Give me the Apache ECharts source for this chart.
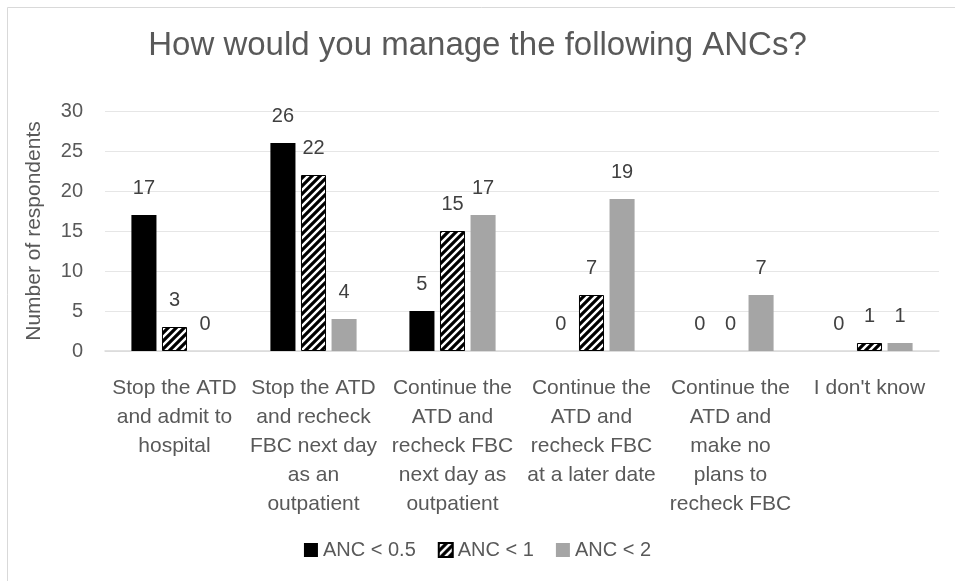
<!DOCTYPE html>
<html>
<head>
<meta charset="utf-8">
<script src="https://cdn.jsdelivr.net/npm/echarts@6/dist/echarts.min.js"></script>
<style>
  html, body { margin: 0; padding: 0; background: #fff; }
  #chart { width: 955px; height: 581px; }
</style>
</head>
<body>
<div id="chart"></div>
<script>
const categories = [
  'Stop the ATD\nand admit to\nhospital',
  'Stop the ATD\nand recheck\nFBC next day\nas an\noutpatient',
  'Continue the\nATD and\nrecheck FBC\nnext day as\noutpatient',
  'Continue the\nATD and\nrecheck FBC\nat a later date',
  'Continue the\nATD and\nmake no\nplans to\nrecheck FBC',
  "I don't know"
];
const seriesNames = ['ANC < 0.5', 'ANC < 1', 'ANC < 2'];
const anc05 = [17, 26, 5, 0, 0, 0];
const anc1 = [3, 22, 15, 7, 0, 1];
const anc2 = [0, 4, 17, 19, 7, 1];
const yTicks = [0, 5, 10, 15, 20, 25, 30];

const FONT = '"Liberation Sans", Arial, sans-serif';
const TEXT = '#595959';

// diagonal hatch for the middle series
const makeHatch = () => {
  const c = document.createElement('canvas');
  c.width = 8;
  c.height = 8;
  const ctx = c.getContext('2d');
  ctx.fillStyle = '#fff';
  ctx.fillRect(0, 0, 8, 8);
  ctx.strokeStyle = '#000';
  ctx.lineWidth = 3.2;
  ctx.beginPath();
  ctx.moveTo(-2, 10); ctx.lineTo(10, -2);
  ctx.moveTo(-2, 2); ctx.lineTo(2, -2);
  ctx.moveTo(6, 10); ctx.lineTo(10, 6);
  ctx.stroke();
  return c;
};
const hatch = { image: makeHatch(), repeat: 'repeat' };

const fills = [
  { color: '#000000' },
  { color: hatch, borderColor: '#000', borderWidth: 1 },
  { color: '#a5a5a5' }
];
const values = [anc05, anc1, anc2];

const labelStyle = {
  show: true,
  position: 'top',
  distance: 17,
  fontFamily: FONT,
  fontSize: 20,
  lineHeight: 20,
  color: '#404040'
};

const chart = echarts.init(document.getElementById('chart'));
chart.setOption({
  backgroundColor: '#fff',
  animation: false,
  graphic: [{
    type: 'rect',
    shape: { x: 7.5, y: 7.5, width: 1000, height: 1000 },
    style: { fill: 'none', stroke: '#d9d9d9', lineWidth: 1 },
    silent: true
  }],
  title: {
    text: 'How would you manage the following ANCs?',
    left: 'center',
    top: 24,
    textStyle: { fontFamily: FONT, fontSize: 33, fontWeight: 'normal', color: TEXT }
  },
  legend: {
    bottom: 16,
    left: 'center',
    icon: 'rect',
    itemWidth: 14,
    itemHeight: 14,
    itemGap: 22,
    textStyle: { fontFamily: FONT, fontSize: 20, color: TEXT },
    data: seriesNames
  },
  grid: { left: 105, right: 16, top: 111, bottom: 230 },
  xAxis: {
    type: 'category',
    data: categories,
    axisLine: { lineStyle: { color: '#d9d9d9', width: 1.5 } },
    axisTick: { show: false },
    axisLabel: {
      interval: 0,
      margin: 23,
      fontFamily: FONT,
      fontSize: 21,
      lineHeight: 29,
      color: TEXT,
      verticalAlign: 'top'
    }
  },
  yAxis: {
    type: 'value',
    min: yTicks[0],
    max: yTicks[yTicks.length - 1],
    interval: 5,
    name: 'Number of respondents',
    nameLocation: 'middle',
    nameGap: 60,
    nameTextStyle: { fontFamily: FONT, fontSize: 21, color: TEXT },
    axisLine: { show: false },
    axisTick: { show: false },
    axisLabel: { margin: 22, fontFamily: FONT, fontSize: 20, color: TEXT },
    splitLine: { lineStyle: { color: '#e6e6e6', width: 1 } }
  },
  series: seriesNames.map((name, i) => ({
    name: name,
    type: 'bar',
    // zero bars get no outline, as in the original
    data: values[i].map(v => (v === 0 ? { value: v, itemStyle: { borderWidth: 0 } } : v)),
    barGap: '22%',
    barCategoryGap: '38%',
    itemStyle: fills[i],
    label: labelStyle
  }))
});
</script>
</body>
</html>
